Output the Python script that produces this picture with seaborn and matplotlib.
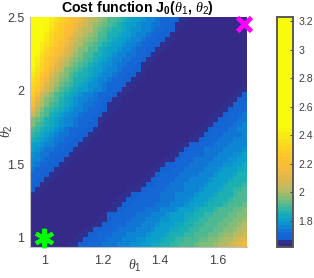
import seaborn as sns
import matplotlib.pyplot as plt
import numpy as np
from matplotlib.colors import LinearSegmentedColormap

# cost, hundredths, top row first
cost_rows = [
    [320,305,285,250,240,235,230,226,222,218,214,209,204,201,198,195,192,190,188,186,184,182,180,178,177,175,174,172,171,170,168,166,165,163,163,163,163,163,163,163,163,163,163,163,163],
    [315,300,270,245,238,232,228,224,221,216,211,206,202,199,196,193,190,188,186,184,182,180,179,177,175,174,173,171,170,168,167,165,163,163,163,163,163,163,163,163,163,163,163,163,163],
    [310,290,255,243,236,231,227,222,218,213,207,203,200,197,194,191,189,187,185,183,181,179,178,176,175,173,172,170,169,168,166,163,163,163,163,163,163,163,163,163,163,163,163,163,163],
    [300,275,248,241,233,229,225,220,215,209,205,201,198,195,192,190,187,185,183,182,180,178,177,175,173,172,170,169,168,166,163,163,163,163,163,163,163,163,163,163,163,163,163,163,163],
    [290,260,244,238,232,227,223,218,212,206,202,199,195,193,191,188,186,184,182,180,178,177,175,174,172,171,169,168,166,165,163,163,163,163,163,163,163,163,163,163,163,163,163,163,163],
    [280,250,242,236,230,225,221,215,208,204,200,197,194,192,189,186,184,182,180,178,177,175,174,172,171,169,168,166,165,163,163,163,163,163,163,163,163,163,163,163,163,163,163,163,163],
    [270,248,240,232,227,222,218,212,205,201,197,195,192,190,187,184,182,180,178,177,175,174,172,171,169,168,166,165,163,163,163,163,163,163,163,163,163,163,163,163,163,163,163,163,163],
    [260,245,236,230,225,220,214,208,203,198,195,192,190,187,185,183,181,179,177,176,174,173,171,170,168,167,165,163,163,163,163,163,163,163,163,163,163,163,163,163,163,163,163,163,163],
    [250,240,233,227,222,215,209,203,199,195,193,190,188,185,183,181,179,177,176,174,173,171,170,169,167,165,163,163,163,163,163,163,163,163,163,163,163,163,163,163,163,163,163,163,163],
    [247,238,231,225,220,212,205,201,196,193,191,188,186,184,182,179,178,176,174,173,171,170,169,167,166,163,163,163,163,163,163,163,163,163,163,163,163,163,163,163,163,163,163,163,163],
    [243,236,230,223,216,208,203,197,194,191,188,186,184,182,180,178,176,175,173,172,170,169,168,166,163,163,163,163,163,163,163,163,163,163,163,163,163,163,163,163,163,163,163,163,163],
    [240,233,225,220,212,204,199,195,192,189,187,185,183,181,178,177,175,174,172,171,169,168,166,165,163,163,163,163,163,163,163,163,163,163,163,163,163,163,163,163,163,163,163,163,163],
    [237,231,222,215,207,201,196,193,190,187,185,183,181,179,177,175,174,172,171,169,168,167,165,163,163,163,163,163,163,163,163,163,163,163,163,163,163,163,163,163,163,163,163,163,163],
    [233,228,220,210,203,198,194,191,188,186,184,182,179,178,176,174,172,171,170,168,167,165,163,163,163,163,163,163,163,163,163,163,163,163,163,163,163,163,163,163,163,163,163,163,165],
    [231,225,215,205,200,195,192,189,186,184,182,180,178,176,175,173,171,170,168,167,166,163,163,163,163,163,163,163,163,163,163,163,163,163,163,163,163,163,163,163,163,163,163,165,166],
    [228,219,206,201,196,192,189,186,184,181,179,177,175,174,172,171,170,168,167,165,163,163,163,163,163,163,163,163,163,163,163,163,163,163,163,163,163,163,163,163,163,163,165,166,168],
    [224,212,203,197,193,190,187,184,182,179,177,176,174,173,171,170,169,167,166,163,163,163,163,163,163,163,163,163,163,163,163,163,163,163,163,163,163,163,163,163,163,165,166,168,169],
    [220,205,200,195,191,188,185,183,180,178,176,174,173,171,170,169,167,166,165,163,163,163,163,163,163,163,163,163,163,163,163,163,163,163,163,163,163,163,163,163,165,167,168,170,171],
    [210,202,196,192,189,186,184,181,178,177,175,173,172,170,169,168,166,165,163,163,163,163,163,163,163,163,163,163,163,163,163,163,163,163,163,163,163,163,163,165,166,168,170,171,172],
    [205,198,193,190,187,184,182,179,177,176,174,172,171,170,168,167,165,163,163,163,163,163,163,163,163,163,163,163,163,163,163,163,163,163,163,163,163,163,165,167,168,170,171,172,173],
    [197,194,190,187,184,182,179,177,176,174,172,171,170,168,167,166,163,163,163,163,163,163,163,163,163,163,163,163,163,163,163,163,163,163,163,163,163,165,166,168,170,171,172,173,174],
    [195,191,188,185,183,180,178,177,175,173,171,170,169,168,166,163,163,163,163,163,163,163,163,163,163,163,163,163,163,163,163,163,163,163,163,163,165,167,169,170,171,172,173,174,175],
    [191,188,185,183,180,178,176,174,172,171,170,169,168,166,165,163,163,163,163,163,163,163,163,163,163,163,163,163,163,163,163,163,163,163,163,165,166,169,170,171,172,173,174,175,175],
    [188,185,183,180,178,176,174,173,171,170,169,168,166,165,163,163,163,163,163,163,163,163,163,163,163,163,163,163,163,163,163,163,163,163,165,167,169,170,171,172,173,173,174,174,175],
    [185,183,180,178,176,174,173,171,170,169,168,166,165,163,163,163,163,163,163,163,163,163,163,163,163,163,163,163,163,163,163,163,163,165,167,169,170,171,172,173,173,174,175,175,176],
    [182,180,178,176,175,173,171,170,169,168,167,165,163,163,163,163,163,163,163,163,163,163,163,163,163,163,163,163,163,163,163,165,167,168,169,170,171,172,173,174,174,175,175,176,177],
    [180,178,176,174,173,171,170,169,168,167,165,163,163,163,163,163,163,163,163,163,163,163,163,163,163,163,163,163,163,163,166,167,169,170,171,172,173,173,174,174,175,175,176,177,179],
    [178,176,174,173,172,170,169,168,167,165,163,163,163,163,163,163,163,163,163,163,163,163,163,163,163,163,163,163,163,165,167,169,170,171,172,172,173,174,174,175,175,176,178,179,181],
    [176,175,173,172,170,169,168,167,165,163,163,163,163,163,163,163,163,163,163,163,163,163,163,163,163,163,163,163,166,167,169,170,171,172,173,173,174,174,175,176,177,178,179,181,182],
    [175,173,172,170,169,168,167,165,163,163,163,163,163,163,163,163,163,163,163,163,163,163,163,163,163,163,165,167,168,169,170,171,172,173,173,174,174,175,176,177,178,179,181,182,183],
    [173,172,170,169,168,166,165,163,163,163,163,163,163,163,163,163,163,163,163,163,163,163,163,163,163,165,167,168,169,170,171,172,173,173,174,174,175,176,177,178,180,181,182,183,184],
    [172,170,169,168,166,165,163,163,163,163,163,163,163,163,163,163,163,163,163,163,163,163,163,163,165,167,168,170,170,171,172,173,173,174,174,175,176,177,178,180,181,182,183,185,186],
    [170,169,168,166,165,163,163,163,163,163,163,163,163,163,163,163,163,163,163,163,163,163,163,166,167,168,170,171,172,172,173,174,174,175,175,176,177,178,180,181,182,183,185,186,187],
    [169,168,166,165,163,163,163,163,163,163,163,163,163,163,163,163,163,163,163,163,163,163,165,167,168,169,170,171,172,173,173,174,175,175,176,177,178,180,181,182,183,185,186,187,188],
    [168,166,165,163,163,163,163,163,163,163,163,163,163,163,163,163,163,163,163,163,165,166,167,169,170,171,171,172,173,173,174,174,175,176,177,178,180,181,182,184,185,186,188,189,190],
    [166,165,163,163,163,163,163,163,163,163,163,163,163,163,163,163,163,163,163,165,166,168,169,170,171,171,172,173,173,174,175,175,176,177,179,180,181,182,184,185,186,187,189,190,191],
    [163,163,163,163,163,163,163,163,163,163,163,163,163,163,163,163,163,163,165,166,168,169,170,171,171,172,172,173,173,174,175,176,177,179,180,181,182,183,185,186,187,188,190,191,192],
    [163,163,163,163,163,163,163,163,163,163,163,163,163,163,163,163,163,165,167,168,169,170,171,171,172,172,173,174,174,175,176,177,179,180,181,182,183,185,186,187,189,190,191,192,193],
    [163,163,163,163,163,163,163,163,163,163,163,163,163,163,163,163,165,167,168,169,170,171,172,172,173,174,174,175,176,177,179,180,181,182,184,185,186,187,189,190,191,192,193,194,195],
    [163,163,163,163,163,163,163,163,163,163,163,163,163,163,163,166,168,169,170,170,171,172,173,173,174,175,175,177,178,180,181,182,183,184,185,186,188,189,190,191,192,193,194,195,197],
    [163,163,163,163,163,163,163,163,163,163,163,163,163,163,165,167,168,170,170,171,172,173,174,174,175,176,177,178,179,180,181,182,184,185,186,188,189,190,191,192,193,194,195,197,199],
    [163,163,163,163,163,163,163,163,163,163,163,163,163,165,167,168,169,170,171,172,173,174,174,175,176,177,178,180,181,182,183,184,185,186,188,189,190,191,192,193,194,195,197,199,201],
    [163,163,163,163,163,163,163,163,163,163,163,165,167,168,169,170,171,172,173,173,174,174,175,176,177,179,180,181,182,183,184,186,187,188,189,190,191,192,193,194,196,197,199,201,203],
    [163,163,163,163,163,163,163,163,163,163,165,167,168,169,170,171,172,173,173,174,175,175,176,177,179,180,181,182,184,185,186,187,188,189,190,191,192,193,194,196,198,199,201,203,205],
    [163,163,163,163,163,163,163,163,163,166,167,168,169,170,171,172,173,173,174,175,176,177,178,179,180,181,182,184,185,186,188,189,190,191,192,193,194,195,197,198,200,202,205,209,212],
    [163,163,163,163,163,163,163,163,166,167,168,169,170,171,172,173,174,174,175,176,177,178,179,180,181,183,184,185,186,188,189,190,191,192,193,195,196,197,198,200,202,205,208,212,215],
]

x_ticks = [1, 1.2, 1.4, 1.6]
x_tick_labels = ['1', '1.2', '1.4', '1.6']
y_ticks = [1, 1.5, 2, 2.5]
y_tick_labels = ['1', '1.5', '2', '2.5']
cbar_ticks = [1.8, 2, 2.2, 2.4, 2.6, 2.8, 3, 3.2]
cbar_tick_labels = ['1.8', '2', '2.2', '2.4', '2.6', '2.8', '3', '3.2']
start_point = (1.0, 1.0)
end_point = (1.69, 2.45)

# axis ranges of the image
x_min, x_max = 0.95, 1.70
y_min, y_max = 0.94, 2.50
c_min, c_max = 1.62, 3.23

plt.rcParams['font.family'] = ['Liberation Sans', 'DejaVu Sans']
plt.rcParams['mathtext.fontset'] = 'custom'
plt.rcParams['mathtext.rm'] = 'Liberation Sans'
plt.rcParams['mathtext.it'] = 'Liberation Serif:italic'
plt.rcParams['mathtext.bf'] = 'Liberation Sans:bold'

colour_stops = [
    (1.62, '#352a87'), (1.645, '#352a87'), (1.65, '#1560d0'), (1.70, '#1468d4'),
    (1.75, '#0e86d4'), (1.80, '#0ca0cc'), (1.85, '#1db0b2'), (1.90, '#4cb994'),
    (1.95, '#80bc7a'), (2.00, '#b0bb66'), (2.05, '#cbb958'), (2.10, '#e2b84a'),
    (2.20, '#fbbd36'), (2.30, '#fdd024'), (2.40, '#f8ea14'), (2.46, '#f9fb0e'),
    (3.23, '#f9fb0e'),
]
cmap = LinearSegmentedColormap.from_list(
    'cost', [((v - c_min) / (c_max - c_min), c) for v, c in colour_stops], N=64)

W, H = 314, 278
fig = plt.figure(figsize=(W / 100, H / 100), dpi=100)
ax = fig.add_axes([30 / W, 1 - 246.7 / H, 217 / W, 229.7 / H])
cax = fig.add_axes([276.5 / W, 1 - 246.7 / H, 16.5 / W, 229.7 / H])

cost = np.array(cost_rows) / 100
n_rows, n_cols = cost.shape
sns.heatmap(cost, ax=ax, cbar_ax=cax, cmap=cmap, vmin=c_min, vmax=c_max,
            xticklabels=False, yticklabels=False)


def to_col(t):
    return (np.asarray(t) - x_min) / (x_max - x_min) * n_cols


def to_row(t):
    return (y_max - np.asarray(t)) / (y_max - y_min) * n_rows


text_col = '#404040'
ax.set_xticks(to_col(x_ticks))
ax.set_xticklabels(x_tick_labels, rotation=0)
ax.set_yticks(to_row(y_ticks))
ax.set_yticklabels(y_tick_labels, rotation=0)
ax.tick_params(axis='x', length=0, labelsize=9, labelcolor=text_col, pad=6)
ax.tick_params(axis='y', length=0, labelsize=9, labelcolor=text_col, pad=4)
ax.set_xlabel(r'$\theta_1$', fontsize=10, color=text_col)
ax.xaxis.set_label_coords((135 - 30) / 217, -(266 - 246.7) / 229.7, transform=ax.transAxes)
ax.xaxis.label.set_verticalalignment('center')
ax.set_ylabel(r'$\theta_2$', fontsize=10, color=text_col)
ax.yaxis.set_label_coords(-(30 - 7) / 217, (246.7 - 131) / 229.7, transform=ax.transAxes)
ax.yaxis.label.set_verticalalignment('center')
ax.set_title(r'Cost function J$_\mathbf{0}$($\theta_1$, $\theta_2$)', fontsize=10.2,
             fontweight='bold', pad=3, x=(137.5 - 30) / 217)

for side in ['left', 'bottom']:
    ax.spines[side].set_visible(True)
    ax.spines[side].set_color('#c0c0c0')
    ax.spines[side].set_linewidth(0.8)

ax.plot(to_col(start_point[0]), to_row(start_point[1]), marker=(6, 2, 0), ms=14, mew=3,
        color='#00ff00', clip_on=False, zorder=5)
ax.plot(to_col(end_point[0]), to_row(end_point[1]), marker='x', ms=10, mew=3.4,
        color='#ff00ff', clip_on=False, zorder=5)

cax.set_yticks(cbar_ticks)
cax.set_yticklabels(cbar_tick_labels)
cax.tick_params(direction='in', length=2, width=0.7, color='#404040', labelsize=7.6,
                labelcolor=text_col, pad=4)
for s in cax.spines.values():
    s.set_visible(True)
    s.set_color('#555555')
    s.set_linewidth(1.1)

fig.savefig('out.png', dpi=100)
